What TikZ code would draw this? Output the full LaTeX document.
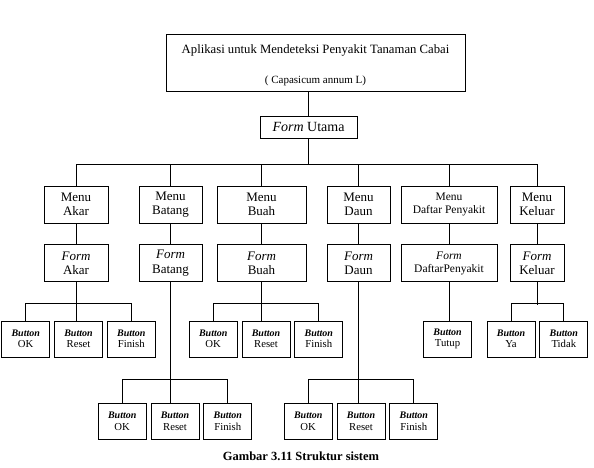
\documentclass[tikz,border=0pt]{standalone}
\usepackage{fontspec}
\setmainfont{Liberation Serif}
\usetikzlibrary{positioning}
\tikzset{%
   box/.style={draw=black, line width=.8pt, inner sep=0pt, align=center, minimum height=37pt},
   menu/.style={box, font=\fontsize{13}{14.5}\selectfont},
   btn/.style={box, minimum width=48pt, minimum height=36pt, font=\fontsize{10.7}{11.5}\selectfont},
   link/.style={line width=.8pt},
}
\newcommand{\but}[1]{{\fontsize{10}{11}\selectfont\bfseries\itshape Button}\\#1}
\begin{document}
\begin{tikzpicture}[x=1pt, y=-1pt]
      \useasboundingbox (0,0) rectangle (594,468);
      \node[box, minimum width=299pt, minimum height=57pt, font=\fontsize{12.7}{15}\selectfont] (app) at (315.5,62.5)
         {\rule{0pt}{15pt}Aplikasi untuk Mendeteksi Penyakit Tanaman Cabai\\[15pt]{\fontsize{11}{12}\selectfont( Capasicum annum L)}};
      \node[box, minimum width=97pt, minimum height=22pt, font=\fontsize{14}{16}\selectfont] (utama) at (308.5,127) {\textit{Form} Utama};
      \node[menu, minimum width=64pt] (makar) at (76,204.5) {Menu\\Akar};
      \node[menu, minimum width=63pt] (mbatang) at (170.5,204.5) {Menu\\Batang};
      \node[menu, minimum width=89pt] (mbuah) at (261.5,204.5) {Menu\\Buah};
      \node[menu, minimum width=63pt] (mdaun) at (358.5,204.5) {Menu\\Daun};
      \node[menu, minimum width=96pt, font=\fontsize{11.5}{13}\selectfont] (mdaftar) at (449,204.5) {Menu\\Daftar Penyakit};
      \node[menu, minimum width=54pt] (mkeluar) at (537,204.5) {Menu\\Keluar};
      \node[menu, minimum width=64pt, below=21pt of makar] (fakar) {\textit{Form}\\Akar};
      \node[menu, minimum width=63pt, below=21pt of mbatang] (fbatang) {\textit{Form}\\Batang};
      \node[menu, minimum width=89pt, below=21pt of mbuah] (fbuah) {\textit{Form}\\Buah};
      \node[menu, minimum width=63pt, below=21pt of mdaun] (fdaun) {\textit{Form}\\Daun};
      \node[menu, minimum width=96pt, font=\fontsize{11.5}{13}\selectfont, below=21pt of mdaftar] (fdaftar) {\textit{Form}\\DaftarPenyakit};
      \node[menu, minimum width=54pt, below=21pt of mkeluar] (fkeluar) {\textit{Form}\\Keluar};
      \node[btn] (akarreset) at (78.5,339) {\but{Reset}};
      \node[btn, left=4pt of akarreset] (akarok) {\but{OK}};
      \node[btn, right=4pt of akarreset] (akarfinish) {\but{Finish}};
      \node[btn] (buahreset) at (266,339) {\but{Reset}};
      \node[btn, left=4pt of buahreset] (buahok) {\but{OK}};
      \node[btn, right=4pt of buahreset] (buahfinish) {\but{Finish}};
      \node[btn] (tutup) at (447.5,339) {\but{Tutup}};
      \node[btn] (keluarya) at (511,339) {\but{Ya}};
      \node[btn, right=4pt of keluarya] (keluartidak) {\but{Tidak}};
      \node[btn] (batangreset) at (175,421.5) {\but{Reset}};
      \node[btn, left=4pt of batangreset] (batangok) {\but{OK}};
      \node[btn, right=4pt of batangreset] (batangfinish) {\but{Finish}};
      \node[btn] (daunreset) at (361,421.5) {\but{Reset}};
      \node[btn, left=4pt of daunreset] (daunok) {\but{OK}};
      \node[btn, right=4pt of daunreset] (daunfinish) {\but{Finish}};
      \node[font=\fontsize{12.5}{14}\selectfont\bfseries] (caption) at (301,456) {Gambar 3.11 Struktur sistem};
      \coordinate (mbus) at (308.5,164);
      \draw[link] (app.south -| utama) -- (utama);
      \draw[link] (utama) -- (mbus);
      \draw[link] (makar.north |- mbus) -- (mkeluar.north |- mbus);
      \foreach \n in {akar,batang,buah,daun,daftar,keluar} {
         \draw[link] (m\n.north) -- (m\n.north |- mbus);
         \draw[link] (m\n) -- (f\n);
      }
      \draw[link] (fakar.south) -- (fakar.south |- akarreset.north);
      \draw[link] (akarok.north) -- ++(0,-17) -| (akarfinish.north);
      \draw[link] (fbuah.south) -- (fbuah.south |- buahreset.north);
      \draw[link] (buahok.north) -- ++(0,-17) -| (buahfinish.north);
      \draw[link] (fdaftar.south) -- (fdaftar.south |- tutup.north);
      \draw[link] (fkeluar.south) -- ++(0,23);
      \draw[link] (keluarya.north) -- ++(0,-17) -| (keluartidak.north);
      \draw[link] (fbatang.south) -- (fbatang.south |- batangreset.north);
      \draw[link] (batangok.north) -- ++(0,-24) -| (batangfinish.north);
      \draw[link] (fdaun.south) -- (fdaun.south |- daunreset.north);
      \draw[link] (daunok.north) -- ++(0,-24) -| (daunfinish.north);
   \end{tikzpicture}
\end{document}
